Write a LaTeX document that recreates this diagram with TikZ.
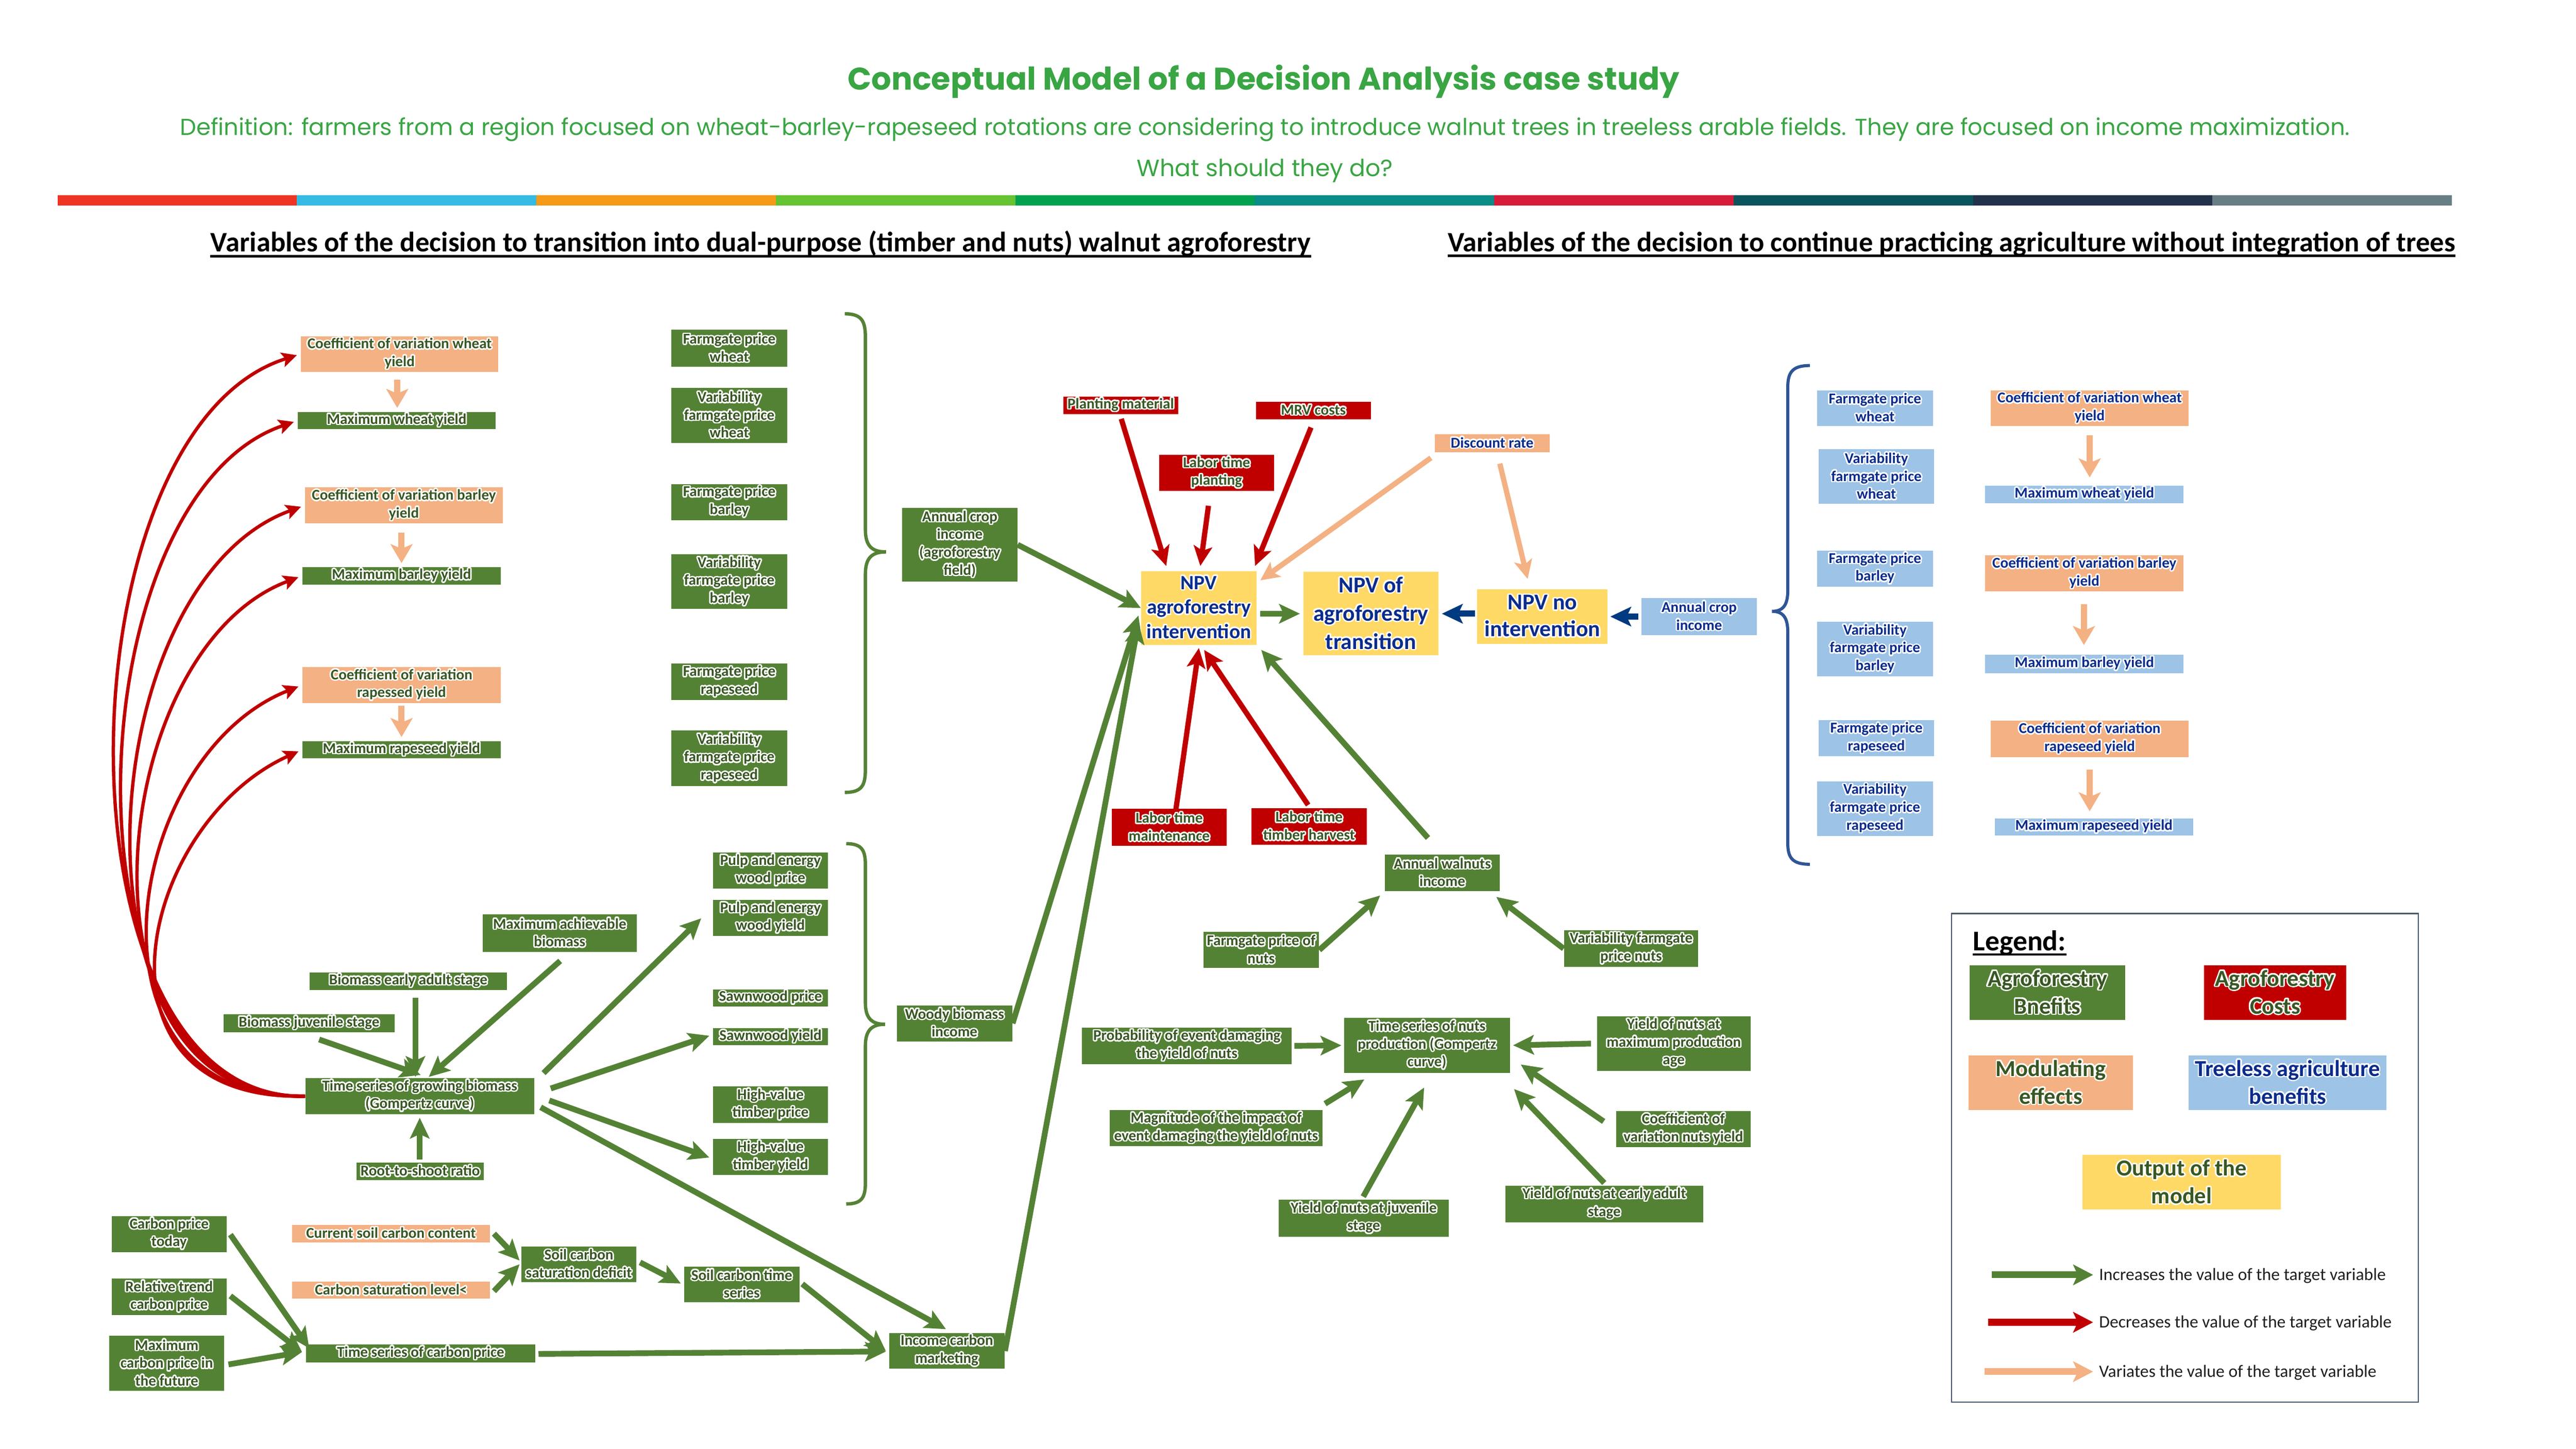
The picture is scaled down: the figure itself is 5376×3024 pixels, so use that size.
\documentclass[tikz,border=0pt]{standalone}
\usepackage{fontspec}
\setmainfont{Carlito}
\newfontfamily\popfont{Poppins}
\usepackage{graphicx}
\usepackage{contour}
\contourlength{0.8pt}
\contournumber{24}
\usetikzlibrary{arrows.meta,calc}

\definecolor{agreen}{RGB}{84,130,53}
\definecolor{ared}{RGB}{192,0,0}
\definecolor{aorange}{RGB}{244,177,131}
\definecolor{ablue}{RGB}{157,195,230}
\definecolor{ayellow}{RGB}{255,217,102}
\definecolor{tgreen}{RGB}{56,87,35}
\definecolor{tnavy}{RGB}{10,44,140}
\definecolor{anavy}{RGB}{0,58,128}
\definecolor{bracebl}{RGB}{47,85,151}
\definecolor{ttgreen}{RGB}{57,165,67}
\definecolor{lgborder}{RGB}{68,84,106}
\definecolor{cb1}{RGB}{238,53,36}
\definecolor{cb2}{RGB}{53,187,227}
\definecolor{cb3}{RGB}{244,154,22}
\definecolor{cb4}{RGB}{102,195,49}
\definecolor{cb5}{RGB}{0,161,79}
\definecolor{cb6}{RGB}{10,140,135}
\definecolor{cb7}{RGB}{213,28,58}
\definecolor{cb8}{RGB}{10,84,92}
\definecolor{cb9}{RGB}{34,50,75}
\definecolor{cb10}{RGB}{103,126,133}

\newcommand{\gw}[1]{\contour{white}{#1}}

\tikzset{
  wh/.style args={#1/#2}{minimum width=#1cm, minimum height=#2cm},
  box/.style={rectangle, inner sep=0pt, align=center, font=\bfseries\fontsize{8.9pt}{10.6pt}\selectfont},
  gbox/.style={box, fill=agreen, text=tgreen},
  rbox/.style={box, fill=ared, text=tgreen},
  obox/.style={box, fill=aorange, text=tgreen},
  oboxn/.style={box, fill=aorange, text=tnavy},
  bbox/.style={box, fill=ablue, text=tnavy},
  ybox/.style={box, fill=ayellow, text=tnavy},
  garrow/.style={draw=agreen, line width=0.12cm, -{Stealth[line width=0pt, length=0.44cm, width=0.42cm, inset=0.1cm]}},
  rarrow/.style={draw=ared, line width=0.11cm, -{Stealth[line width=0pt, length=0.42cm, width=0.40cm, inset=0.1cm]}},
  rcurve/.style={draw=ared, line width=0.07cm, shorten >=0.08cm, -{Stealth[line width=0pt, length=0.32cm, width=0.32cm, inset=0.07cm]}},
  oarrow/.style={draw=aorange, line width=0.11cm, -{Stealth[line width=0pt, length=0.40cm, width=0.39cm, inset=0.1cm]}},
  ovarrow/.style={draw=aorange, line width=0.13cm, -{Stealth[line width=0pt, length=0.40cm, width=0.47cm, inset=0.1cm]}},
  barrow/.style={draw=anavy, line width=0.13cm, -{Stealth[line width=0pt, length=0.44cm, width=0.42cm, inset=0.1cm]}},
  lgarrow/.style={line width=0.14cm, -{Stealth[line width=0pt, length=0.42cm, width=0.44cm, inset=0.1cm]}},
  gbrace/.style={draw=agreen, line width=0.07cm},
  bbrace/.style={draw=bracebl, line width=0.065cm},
}

\begin{document}
\begin{tikzpicture}[x=0.01cm, y=-0.01cm]
\fill[white] (0,0) rectangle (5376,3024);
\useasboundingbox (0,0) rectangle (5376,3024);

% ---------- header ----------
\node[anchor=base, inner sep=0, text=ttgreen] (title) at (2637,188)
  {\resizebox{17.35cm}{!}{\popfont\bfseries Conceptual Model of a Decision Analysis case study}};
\node[anchor=base, inner sep=0, text=ttgreen] (defn) at (2640,282)
  {\resizebox{45.26cm}{!}{\popfont Definition: farmers from a region focused on wheat-barley-rapeseed rotations are considering to introduce walnut trees in treeless arable fields. They are focused on income maximization.}};
\node[anchor=base, inner sep=0, text=ttgreen] (quest) at (2640,368)
  {\resizebox{5.34cm}{!}{\popfont What should they do?}};

\foreach \c [count=\i from 0] in {cb1,cb2,cb3,cb4,cb5,cb6,cb7,cb8,cb9,cb10}
  \fill[\c] ({120+\i*499.7},407) rectangle ({120+(\i+1)*499.7},429);

\node[anchor=base west, inner sep=0] (hl) at (439,525)
  {\resizebox{22.94cm}{!}{\bfseries Variables of the decision to transition into dual-purpose (timber and nuts) walnut agroforestry}};
\node[anchor=base west, inner sep=0] (hr) at (3021,525)
  {\resizebox{21.01cm}{!}{\bfseries Variables of the decision to continue practicing agriculture without integration of trees}};
\draw[line width=0.05cm] ($(hl.base west)+(0,10)$) -- ($(hl.base east)+(0,10)$);
\draw[line width=0.05cm] ($(hr.base west)+(0,9)$) -- ($(hr.base east)+(0,9)$);

% ---------- left column: crop yields ----------
\node[obox, wh=4.12/0.74] (cvw) at (834,739) {\gw{Coefficient of variation wheat}\\\gw{yield}};
\node[gbox, wh=4.13/0.36] (mw) at (828,878) {\gw{Maximum wheat yield}};
\node[obox, wh=4.13/0.75] (cvb) at (843,1055) {\gw{Coefficient of variation barley}\\\gw{yield}};
\node[gbox, wh=4.14/0.36] (mb) at (838,1202) {\gw{Maximum barley yield}};
\node[obox, wh=4.14/0.75] (cvr) at (838,1430) {\gw{Coefficient of variation}\\\gw{rapessed yield}};
\node[gbox, wh=4.14/0.36] (mr) at (838,1565) {\gw{Maximum rapeseed yield}};

% farmgate prices
\node[gbox, wh=2.41/0.77] (fpw) at (1522,727) {\gw{Farmgate price}\\\gw{wheat}};
\node[gbox, wh=2.41/1.15] (vfpw) at (1522,867) {\gw{Variability}\\\gw{farmgate price}\\\gw{wheat}};
\node[gbox, wh=2.41/0.75] (fpb) at (1522,1048) {\gw{Farmgate price}\\\gw{barley}};
\node[gbox, wh=2.41/1.14] (vfpb) at (1522,1214) {\gw{Variability}\\\gw{farmgate price}\\\gw{barley}};
\node[gbox, wh=2.41/0.76] (fpr) at (1522,1423) {\gw{Farmgate price}\\\gw{rapeseed}};
\node[gbox, wh=2.41/1.16] (vfpr) at (1522,1583) {\gw{Variability}\\\gw{farmgate price}\\\gw{rapeseed}};

\node[gbox, wh=2.40/1.54] (aci) at (2003,1137) {\gw{Annual crop}\\\gw{income}\\\gw{(agroforestry}\\\gw{field)}};

% braces
\draw[gbrace] (1763,655) .. controls (1800,655) and (1806,672) .. (1806,705) -- (1806,1105)
  .. controls (1806,1138) and (1818,1152) .. (1849,1152)
  .. controls (1818,1152) and (1806,1166) .. (1806,1199) -- (1806,1605)
  .. controls (1806,1638) and (1800,1654) .. (1763,1654);
\draw[gbrace] (1766,1761) .. controls (1800,1761) and (1806,1776) .. (1806,1806) -- (1806,2093)
  .. controls (1806,2124) and (1818,2138) .. (1847,2138)
  .. controls (1818,2138) and (1806,2152) .. (1806,2183) -- (1806,2468)
  .. controls (1806,2498) and (1800,2513) .. (1766,2513);
\draw[bbrace] (3777,763) .. controls (3740,763) and (3731,778) .. (3731,808) -- (3731,1232)
  .. controls (3731,1262) and (3722,1276) .. (3698,1276)
  .. controls (3722,1276) and (3731,1290) .. (3731,1320) -- (3731,1760)
  .. controls (3731,1790) and (3740,1804) .. (3777,1804);

% ---------- biomass part ----------
\node[gbox, wh=2.40/0.75] (ppw) at (1608,1817) {\gw{Pulp and energy}\\\gw{wood price}};
\node[gbox, wh=2.40/0.75] (pyw) at (1608,1916) {\gw{Pulp and energy}\\\gw{wood yield}};
\node[gbox, wh=3.21/0.78] (mab) at (1168,1948) {\gw{Maximum achievable}\\\gw{biomass}};
\node[gbox, wh=4.12/0.37] (beas) at (852,2048) {\gw{Biomass early adult stage}};
\node[gbox, wh=3.57/0.38] (bjs) at (645,2136) {\gw{Biomass juvenile stage}};
\node[gbox, wh=4.77/0.75] (tsb) at (876,2288) {\gw{Time series of growing biomass}\\\gw{(Gompertz curve)}};
\node[gbox, wh=2.66/0.37] (rts) at (877,2445) {\gw{Root-to-shoot ratio}};
\node[gbox, wh=2.40/0.36] (swp) at (1608,2083) {\gw{Sawnwood price}};
\node[gbox, wh=2.40/0.36] (swy) at (1608,2164) {\gw{Sawnwood yield}};
\node[gbox, wh=2.40/0.76] (hvp) at (1608,2306) {\gw{High-value}\\\gw{timber price}};
\node[gbox, wh=2.40/0.76] (hvy) at (1608,2415) {\gw{High-value}\\\gw{timber yield}};
\node[gbox, wh=2.41/0.75] (wbi) at (1992,2136) {\gw{Woody biomass}\\\gw{income}};

% ---------- carbon part ----------
\node[gbox, wh=2.40/0.75] (cpt) at (353,2576) {\gw{Carbon price}\\\gw{today}};
\node[gbox, wh=2.40/0.76] (rtc) at (353,2707) {\gw{Relative trend}\\\gw{carbon price}};
\node[gbox, wh=2.40/1.15] (mcp) at (348,2846) {\gw{Maximum}\\\gw{carbon price in}\\\gw{the future}};
\node[obox, wh=4.12/0.36] (scc) at (816,2575) {\gw{Current soil carbon content}};
\node[obox, wh=4.12/0.36] (csl) at (816,2693) {\gw{Carbon saturation level<}};
\node[gbox, wh=2.40/0.75] (scd) at (1208,2639) {\gw{Soil carbon}\\\gw{saturation deficit}};
\node[gbox, wh=2.41/0.75] (scts) at (1548,2681) {\gw{Soil carbon time}\\\gw{series}};
\node[gbox, wh=4.78/0.37] (tscp) at (878,2825) {\gw{Time series of carbon price}};
\node[gbox, wh=2.41/0.74] (icm) at (1976,2820) {\gw{Income carbon}\\\gw{marketing}};

% ---------- centre ----------
\node[rbox, wh=2.40/0.37] (pm) at (2339,846) {\gw{Planting material}};
\node[rbox, wh=2.40/0.37] (mrv) at (2741,857) {\gw{MRV costs}};
\node[rbox, wh=2.40/0.76] (ltp) at (2539,987) {\gw{Labor time}\\\gw{planting}};
\node[oboxn, wh=2.40/0.38] (dr) at (3114,925) {\gw{Discount rate}};
\node[ybox, wh=2.41/1.54, font=\bfseries\fontsize{12.1pt}{14.5pt}\selectfont] (npva) at (2502,1269) {\gw{NPV}\\\gw{agroforestry}\\\gw{intervention}};
\node[ybox, wh=2.81/1.74, font=\bfseries\fontsize{13.4pt}{16.8pt}\selectfont] (npvt) at (2861,1281) {\gw{NPV of}\\\gw{agroforestry}\\\gw{transition}};
\node[ybox, wh=2.72/1.14, font=\bfseries\fontsize{13.4pt}{15.9pt}\selectfont] (npvn) at (3219,1287) {\gw{NPV no}\\\gw{intervention}};
\node[bbox, wh=2.40/0.77] (acin) at (3546,1287) {\gw{Annual crop}\\\gw{income}};
\node[rbox, wh=2.40/0.77] (ltm) at (2440,1727) {\gw{Labor time}\\\gw{maintenance}};
\node[rbox, wh=2.40/0.76] (ltth) at (2732,1725) {\gw{Labor time}\\\gw{timber harvest}};

% ---------- walnuts ----------
\node[gbox, wh=2.40/0.77] (awi) at (3010,1822) {\gw{Annual walnuts}\\\gw{income}};
\node[gbox, wh=2.41/0.75] (fpn) at (2632,1983) {\gw{Farmgate price of}\\\gw{nuts}};
\node[gbox, wh=2.80/0.76] (vfpn) at (3404,1980) {\gw{Variability farmgate}\\\gw{price nuts}};
\node[gbox, wh=3.46/1.15] (tsn) at (2978,2182) {\gw{Time series of nuts}\\\gw{production (Gompertz}\\\gw{curve)}};
\node[gbox, wh=4.37/0.76] (pev) at (2477,2183) {\gw{Probability of event damaging}\\\gw{the yield of nuts}};
\node[gbox, wh=3.20/1.14] (ynm) at (3493,2178) {\gw{Yield of nuts at}\\\gw{maximum production}\\\gw{age}};
\node[gbox, wh=4.43/0.75] (mid) at (2538,2355) {\gw{Magnitude of the impact of}\\\gw{event damaging the yield of nuts}};
\node[gbox, wh=2.81/0.75] (cvn) at (3513,2357) {\gw{Coefficient of}\\\gw{variation nuts yield}};
\node[gbox, wh=3.55/0.77] (ynj) at (2846,2543) {\gw{Yield of nuts at juvenile}\\\gw{stage}};
\node[gbox, wh=4.12/0.76] (yne) at (3348,2513) {\gw{Yield of nuts at early adult}\\\gw{stage}};

% ---------- right side ----------
\node[bbox, wh=2.42/0.75] (fpw2) at (3913,852) {\gw{Farmgate price}\\\gw{wheat}};
\node[bbox, wh=2.40/1.14] (vfpw2) at (3916,995) {\gw{Variability}\\\gw{farmgate price}\\\gw{wheat}};
\node[bbox, wh=2.42/0.76] (fpb2) at (3913,1187) {\gw{Farmgate price}\\\gw{barley}};
\node[bbox, wh=2.42/1.14] (vfpb2) at (3913,1355) {\gw{Variability}\\\gw{farmgate price}\\\gw{barley}};
\node[bbox, wh=2.40/0.75] (fpr2) at (3916,1541) {\gw{Farmgate price}\\\gw{rapeseed}};
\node[bbox, wh=2.42/1.14] (vfpr2) at (3913,1688) {\gw{Variability}\\\gw{farmgate price}\\\gw{rapeseed}};
\node[oboxn, wh=4.12/0.75] (cvw2) at (4361,852) {\gw{Coefficient of variation wheat}\\\gw{yield}};
\node[bbox, wh=4.14/0.36] (mw2) at (4350,1032) {\gw{Maximum wheat yield}};
\node[oboxn, wh=4.14/0.75] (cvb2) at (4350,1197) {\gw{Coefficient of variation barley}\\\gw{yield}};
\node[bbox, wh=4.14/0.38] (mb2) at (4350,1386) {\gw{Maximum barley yield}};
\node[oboxn, wh=4.12/0.76] (cvr2) at (4361,1542) {\gw{Coefficient of variation}\\\gw{rapeseed yield}};
\node[bbox, wh=4.14/0.36] (mr2) at (4370,1726) {\gw{Maximum rapeseed yield}};

% ---------- connectors ----------
% red curves
\draw[rcurve] (tsb.west) .. controls (100,2300) and (120,900) .. (cvw.west);
\draw[rcurve] (tsb.west) .. controls (112,2300) and (150,1040) .. (mw.west);
\draw[rcurve] (tsb.west) .. controls (124,2300) and (185,1220) .. (cvb.west);
\draw[rcurve] (tsb.west) .. controls (136,2300) and (215,1360) .. (mb.west);
\draw[rcurve] (tsb.west) .. controls (148,2300) and (255,1580) .. (cvr.west);
\draw[rcurve] (tsb.west) .. controls (160,2300) and (290,1720) .. (mr.west);

% orange vertical
\draw[ovarrow] ($(cvw.south)+(-5,16)$) -- ($(cvw.south |- mw.north)+(-5,-8)$);
\draw[ovarrow] ($(cvb.south)+(-5,19)$) -- ($(cvb.south |- mb.north)+(-5,-8)$);
\draw[ovarrow] ($(cvr.south)+(0,5)$) -- ($(cvr.south |- mr.north)+(0,-8)$);
\draw[ovarrow] ($(cvw2.south)+(0,18)$) -- ($(cvw2.south |- mw2.north)+(0,-17)$);
\draw[ovarrow] ($(cvb2.south)+(-1,26)$) -- ($(cvb2.south |- mb2.north)+(-1,-20)$);
\draw[ovarrow] ($(cvr2.south)+(0,26)$) -- ($(cvr2.south |- mr2.north)+(0,-14)$);

% green into NPV
\draw[garrow] (aci.east) -- (npva.west);
\draw[garrow] (wbi.east) -- ($(npva.west)+(-5,16)$);
\draw[garrow] (icm.east) -- ($(npva.west)+(-5,31)$);
\draw[garrow, shorten <=0.07cm, shorten >=0.07cm] (npva.east |- npvt.west) -- (npvt.west);
\draw[garrow, shorten <=0.45cm] (awi.north) -- ($(npva.south east)+(9,10)$);

% walnuts
\draw[garrow] (fpn.east) -- ($(awi.south west)+(-9,8)$);
\draw[garrow] (vfpn.west) -- ($(awi.south east)+(-8,11)$);
\draw[garrow, shorten <=0.05cm, shorten >=0.05cm] (pev.east) -- (tsn.west);
\draw[garrow, shorten <=0.12cm, shorten >=0.06cm] (ynm.west) -- (tsn.east);
\draw[garrow] ($(mid.north east)+(5,-13)$) -- ($(tsn.south west)+(43,13)$);
\draw[garrow] ($(cvn.north west)+(-25,22)$) -- ($(tsn.east)+(22,40)$);
\draw[garrow] ($(ynj.north)+(-1,-6)$) -- ($(tsn.south)+(-6,30)$);
\draw[garrow] ($(yne.north)+(0,-5)$) -- ($(tsn.south east)+(8,33)$);

% biomass
\draw[garrow] ($(bjs.south)+(21,14)$) -- ($(tsb.north)+(2,-6)$);
\draw[garrow] ($(beas.south)+(15,15)$) -- ($(tsb.north)+(-9,-2)$);
\draw[garrow] ($(mab.south)+(1,18)$) -- ($(tsb.north)+(19,-2)$);
\draw[garrow] ($(rts.north)+(-1,-6)$) -- ($(tsb.south)+(0,7)$);
\draw[garrow] ($(tsb.north east)+(19,-10)$) -- ($(pyw.west)+(-24,1)$);
\draw[garrow] ($(tsb.east)+(34,-16)$) -- ($(swy.west)+(-7,-2)$);
\draw[garrow] ($(tsb.east)+(31,9)$) -- ($(hvy.west)+(-7,1)$);
\draw[garrow] ($(tsb.south east)+(13,-15)$) -- ($(icm.north)+(-2,-8)$);

% carbon
\draw[garrow] ($(cpt.east)+(7,1)$) -- ($(tscp.west)+(7,-11)$);
\draw[garrow] ($(rtc.east)+(7,-2)$) -- ($(tscp.west)+(-8,-3)$);
\draw[garrow] ($(mcp.east)+(8,2)$) -- ($(tscp.west)+(-8,-3)$);
\draw[garrow] ($(scc.east)+(8,0)$) -- ($(scd.west)+(-3,-8)$);
\draw[garrow] ($(csl.east)+(8,2)$) -- ($(scd.west)+(-3,0)$);
\draw[garrow] ($(scd.east)+(7,-4)$) -- ($(scts.west)+(-6,-2)$);
\draw[garrow] ($(scts.east)+(5,-1)$) -- ($(icm.west)+(-6,0)$);
\draw[garrow] ($(tscp.east)+(6,1)$) -- ($(icm.west)+(-6,1)$);

% red into NPV
\draw[rarrow] ($(pm.south)+(1,9)$) -- ($(npva.north west)+(53,-10)$);
\draw[rarrow] ($(ltp.south)+(-17,30)$) -- ($(npva.north)+(3,-10)$);
\draw[rarrow] ($(mrv.south)+(-5,16)$) -- ($(npva.north east)+(-4,-10)$);
\draw[rarrow] ($(ltm.north)+(14,2)$) -- ($(npva.south)+(0,6)$);
\draw[rarrow] ($(ltth.north)+(-2,-6)$) -- ($(npva.south)+(11,10)$);

% orange discount
\draw[oarrow] ($(dr.south west)+(-7,11)$) -- ($(npva.north east)+(7,20)$);
\draw[oarrow] ($(dr.south)+(16,23)$) -- ($(npvn.north)+(-31,-21)$);

% blue
\draw[barrow, shorten <=0.04cm, shorten >=0.07cm] (npvn.west |- npvt.east) -- (npvt.east);
\draw[barrow, shorten <=0.06cm, shorten >=0.05cm] (acin.west) -- (npvn.east);

% ---------- legend ----------
\draw[lgborder, line width=0.025cm] (4073,1907) rectangle (5047,2927);
\node[anchor=base west, inner sep=0, font=\bfseries\fontsize{17pt}{20pt}\selectfont] (lgt) at (4117,1984) {Legend:};
\draw[line width=0.045cm] ($(lgt.base west)+(0,8)$) -- ($(lgt.base east)+(0,8)$);
\node[box, fill=agreen, text=tgreen, wh=3.24/1.14, font=\bfseries\fontsize{13.6pt}{16.5pt}\selectfont] (lg1) at (4273,2072) {\gw{Agroforestry}\\\gw{Bnefits}};
\node[box, fill=ared, text=tgreen, wh=2.97/1.14, font=\bfseries\fontsize{13.6pt}{16.5pt}\selectfont] (lg2) at (4748,2072) {\gw{Agroforestry}\\\gw{Costs}};
\node[box, fill=aorange, text=tgreen, wh=3.43/1.14, font=\bfseries\fontsize{13.6pt}{16.5pt}\selectfont] (lg3) at (4280,2260) {\gw{Modulating}\\\gw{effects}};
\node[box, fill=ablue, text=tnavy, wh=4.13/1.14, font=\bfseries\fontsize{13.6pt}{16.5pt}\selectfont] (lg4) at (4774,2260) {\gw{Treeless agriculture}\\\gw{benefits}};
\node[box, fill=ayellow, text=tgreen, wh=4.14/1.14, font=\bfseries\fontsize{13.6pt}{16.5pt}\selectfont] (lg5) at (4553,2468) {\gw{Output of the}\\\gw{model}};

\coordinate (la1s) at (4157,2661); \coordinate (la1e) at (4368,2661);
\coordinate (la2s) at (4149,2760); \coordinate (la2e) at (4368,2760);
\coordinate (la3s) at (4142,2863); \coordinate (la3e) at (4368,2863);
\draw[lgarrow, draw=agreen] (la1s) -- (la1e);
\draw[lgarrow, draw=ared] (la2s) -- (la2e);
\draw[lgarrow, draw=aorange] (la3s) -- (la3e);
\node[anchor=west, inner sep=0, font=\fontsize{10.3pt}{12pt}\selectfont, text=black!88] (lt1) at (4380,2663) {Increases the value of the target variable};
\node[anchor=west, inner sep=0, font=\fontsize{10.3pt}{12pt}\selectfont, text=black!88] (lt2) at (4380,2762) {Decreases the value of the target variable};
\node[anchor=west, inner sep=0, font=\fontsize{10.3pt}{12pt}\selectfont, text=black!88] (lt3) at (4380,2865) {Variates the value of the target variable};
\end{tikzpicture}
\end{document}
